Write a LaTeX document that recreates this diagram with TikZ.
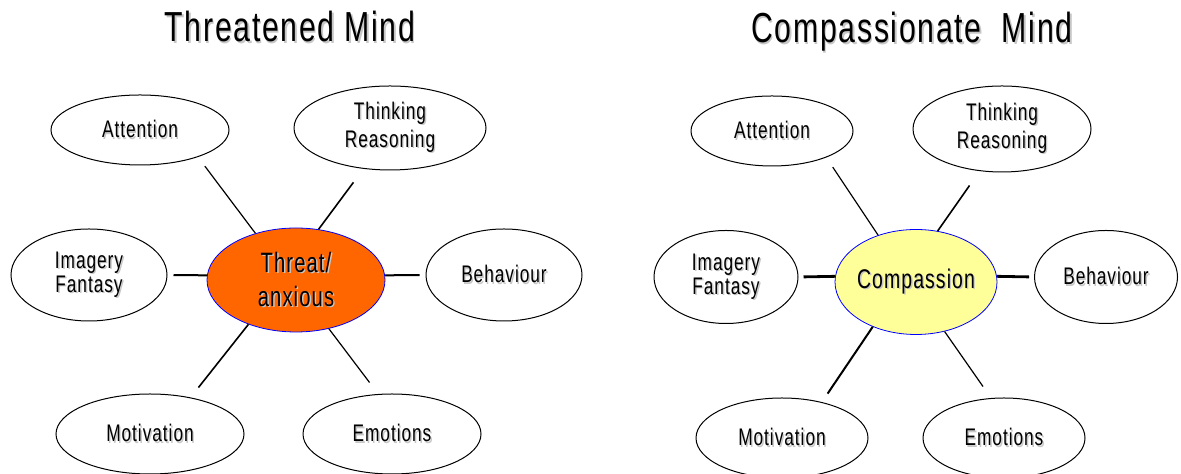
\documentclass[tikz,border=0pt]{standalone}
\usepackage{fontspec}
\setmainfont{Liberation Sans}[FakeStretch=0.72, LetterSpace=4]
\usetikzlibrary{shapes.geometric}

\definecolor{threatorange}{HTML}{FF6600}
\definecolor{calmyellow}{HTML}{FFFF99}

% text with a light grey drop shadow
\newcommand{\shd}[1]{\makebox[0pt][l]{\hspace{0.7pt}\raisebox{-0.7pt}{\color{black!22}#1}}#1}

\begin{document}
\begin{tikzpicture}[
    x=0.5pt, y=0.5pt,
    bubble/.style={draw, ellipse, fill=white, line width=0.5pt, inner sep=0pt, align=center, font=\fontsize{12}{12}\selectfont},
    twoline/.style={font=\fontsize{12}{14}\selectfont},
    hub/.style={bubble, draw=blue, line width=0.4pt, inner xsep=-10pt, font=\fontsize{14}{17}\selectfont},
    title/.style={anchor=base, font=\fontsize{21}{21}\selectfont},
    spoke/.style={line width=0.6pt},
    midspoke/.style={line width=0.8pt},
    flatspoke/.style={line width=1pt}
  ]
  \useasboundingbox (0,0) rectangle (1181,474);

  % Titles
  \node[title] (lefttitle) at (290,432) {\shd{Threatened Mind}};
  \node[title] (righttitle) at (912,431) {\shd{Compassionate\ \ Mind}};

  % Threatened mind: centre and its six parts
  \node[hub, fill=threatorange, minimum width=89pt, minimum height=52pt] (threat) at (296,194) {\shd{Threat/}\\\shd{anxious}};
  \node[bubble, minimum width=89pt, minimum height=35pt] (attention) at (140,344) {\shd{Attention}};
  \node[bubble, twoline, minimum width=96pt, minimum height=42pt] (thinking) at (390,346) {\shd{Thinking}\\\shd{Reasoning}};
  \node[bubble, minimum width=78pt, minimum height=46pt] (imagery) at (89,199) {\shd{Imagery}\\\shd{Fantasy}};
  \node[bubble, minimum width=78pt, minimum height=46pt] (behaviour) at (504,199) {\shd{Behaviour}};
  \node[bubble, minimum width=94pt, minimum height=40pt] (motivation) at (150,40) {\shd{Motivation}};
  \node[bubble, minimum width=89pt, minimum height=40pt] (emotions) at (392,40) {\shd{Emotions}};

  % Spokes stop short of the outer ellipses
  \draw[spoke, shorten >=5.7pt] (threat.131) -- (attention.-25);
  \draw[midspoke, shorten >=8.4pt] (threat.66) -- (thinking.-123);
  \draw[flatspoke, shorten >=3pt] (threat.177) -- (imagery.east);
  \draw[flatspoke, shorten >=3pt] (threat.3) -- (behaviour.west);
  \draw[midspoke, shorten >=6.3pt] (threat.223) -- (motivation.42);
  \draw[spoke, shorten >=7.2pt] (threat.-56) -- (emotions.109);

  % Compassionate mind: same layout
  \node[hub, fill=calmyellow, minimum width=81pt, minimum height=52.5pt, font=\fontsize{13.5}{16}\selectfont] (compassion) at (916,192) {\shd{Compassion}};
  \node[bubble, minimum width=81pt, minimum height=35pt] (attention2) at (772,343) {\shd{Attention}};
  \node[bubble, twoline, minimum width=89pt, minimum height=43pt] (thinking2) at (1002,345) {\shd{Thinking}\\\shd{Reasoning}};
  \node[bubble, minimum width=72pt, minimum height=46.5pt] (imagery2) at (726,197) {\shd{Imagery}\\\shd{Fantasy}};
  \node[bubble, minimum width=71.5pt, minimum height=46.5pt] (behaviour2) at (1106,197) {\shd{Behaviour}};
  \node[bubble, minimum width=86pt, minimum height=40pt] (motivation2) at (782,36) {\shd{Motivation}};
  \node[bubble, minimum width=81pt, minimum height=40pt] (emotions2) at (1004,36) {\shd{Emotions}};

  \draw[spoke, shorten >=5.8pt] (compassion.129) -- (attention2.-26);
  \draw[midspoke, shorten >=8.8pt] (compassion.67) -- (thinking2.-118);
  \draw[flatspoke, line width=1.4pt, shorten >=2.5pt] (compassion.176) -- (imagery2.east);
  \draw[flatspoke, line width=1.4pt, shorten >=2.5pt] (compassion.4) -- (behaviour2.west);
  \draw[flatspoke, shorten >=5.1pt] (compassion.226) -- (motivation2.42);
  \draw[spoke, shorten >=7pt] (compassion.-60) -- (emotions2.108);

\end{tikzpicture}
\end{document}
